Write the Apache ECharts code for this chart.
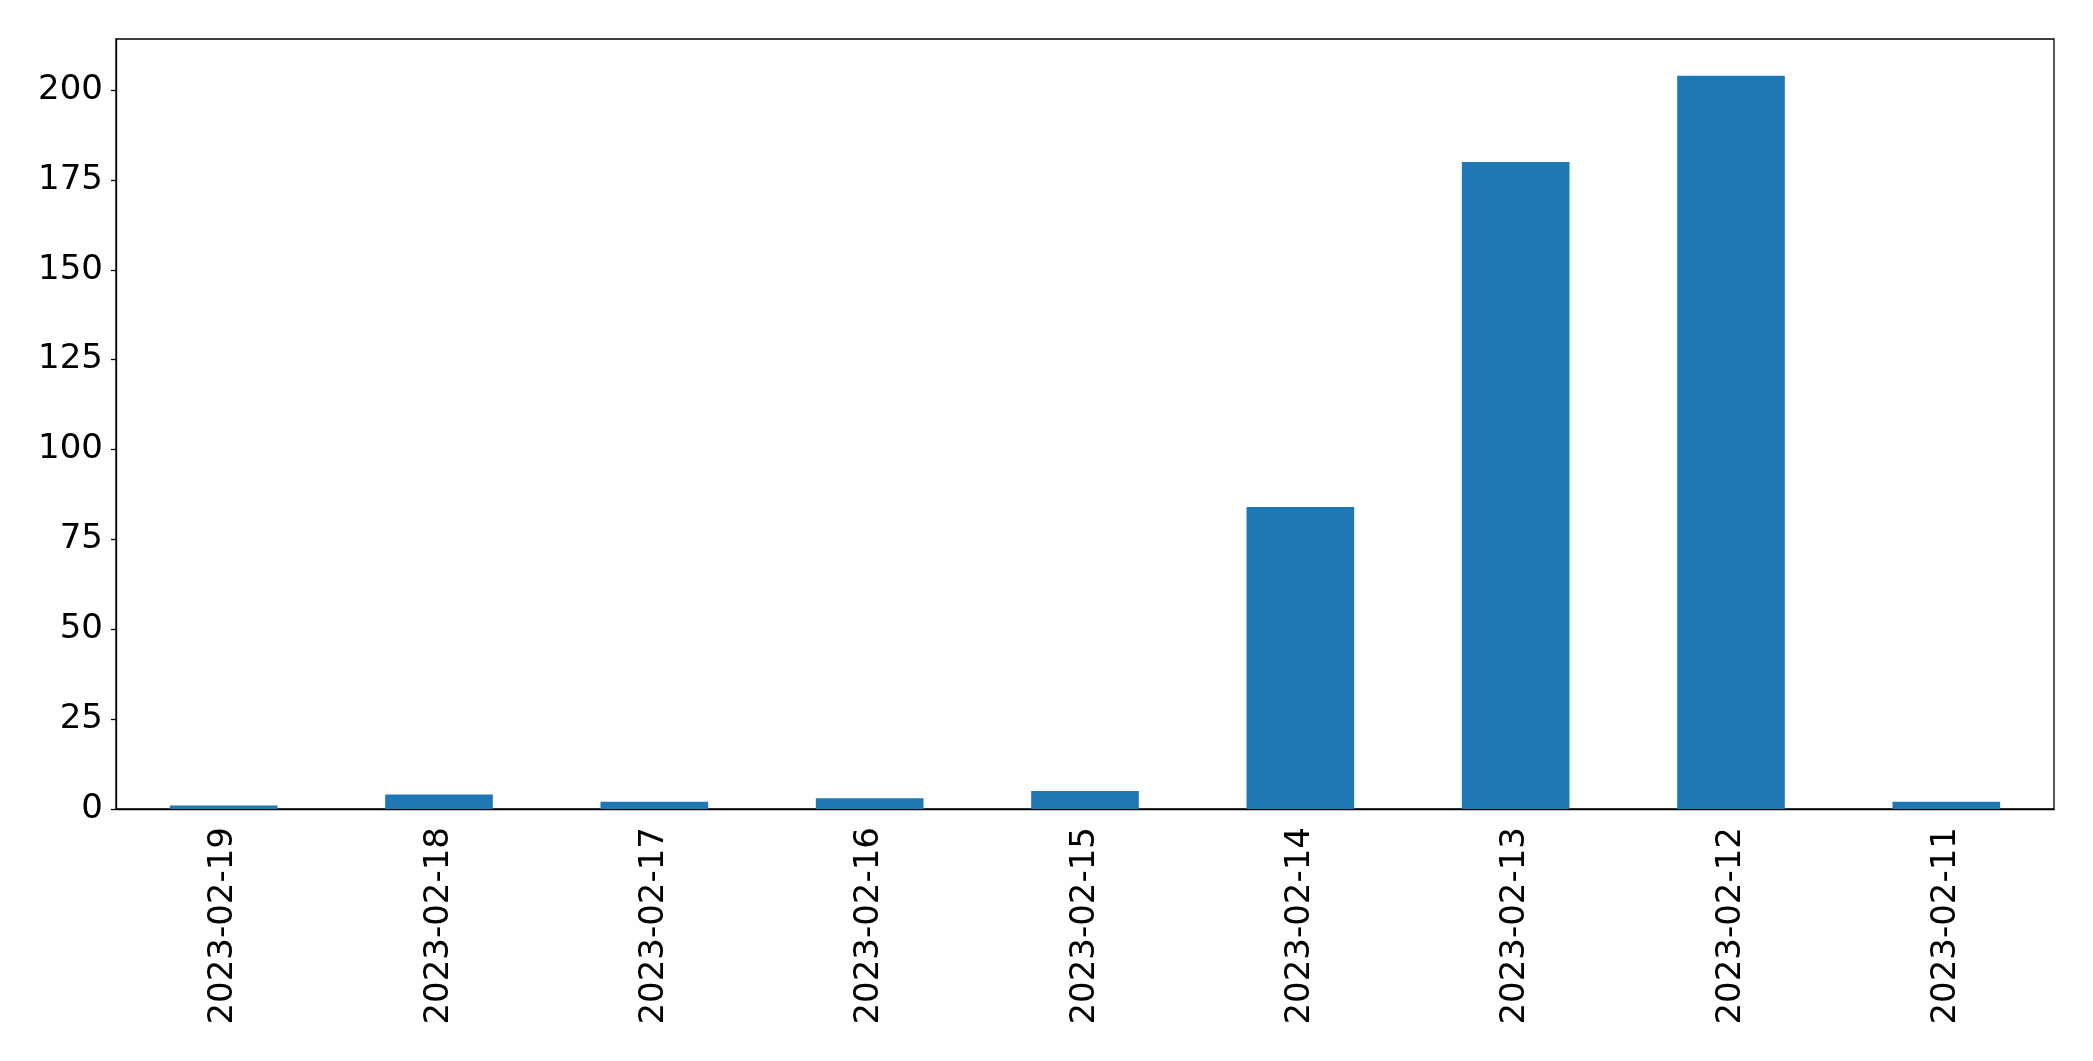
<!DOCTYPE html>
<html>
<head>
<meta charset="utf-8">
<script src="https://cdn.jsdelivr.net/npm/echarts@6/dist/echarts.min.js"></script>
<style>html,body{margin:0;padding:0;background:#fff}#c{width:2093px;height:1061px}</style>
</head>
<body>
<div id="c"></div>
<script>
const categories = ['2023-02-19','2023-02-18','2023-02-17','2023-02-16','2023-02-15','2023-02-14','2023-02-13','2023-02-12','2023-02-11'];
const values = [1, 4, 2, 3, 5, 84, 180, 204, 2];
const yTicks = [0, 25, 50, 75, 100, 125, 150, 175, 200];

const chart = echarts.init(document.getElementById('c'), null, {renderer: 'canvas'});
const font = 'DejaVu Sans';
chart.setOption({
  animation: false,
  backgroundColor: '#fff',
  grid: {left: 116, right: 39, top: 39, bottom: 252, show: true, borderColor: '#000', borderWidth: 1.3, backgroundColor: 'transparent'},
  xAxis: {
    type: 'category',
    data: categories,
    boundaryGap: true,
    axisLine: {lineStyle: {color: '#000', width: 1.3}},
    axisTick: {alignWithLabel: true, length: 5, lineStyle: {color: '#000', width: 1.3}},
    axisLabel: {rotate: 90, margin: 18, color: '#000', fontFamily: font, fontSize: 34, interval: 0}
  },
  yAxis: {
    type: 'value',
    min: 0,
    max: 214.2,
    interval: 25,
    splitLine: {show: false},
    axisLine: {show: true, lineStyle: {color: '#000', width: 1.3}},
    axisTick: {show: true, length: 5, lineStyle: {color: '#000', width: 1.3}},
    axisLabel: {margin: 13, color: '#000', fontFamily: font, fontSize: 34, showMaxLabel: false,
      padding: [6, 0, 0, 0],
      formatter: v => yTicks.includes(v) ? String(v) : ''}
  },
  series: [{
    type: 'bar',
    data: values,
    barWidth: '50%',
    itemStyle: {color: '#1f77b4'}
  }]
});
</script>
</body>
</html>
